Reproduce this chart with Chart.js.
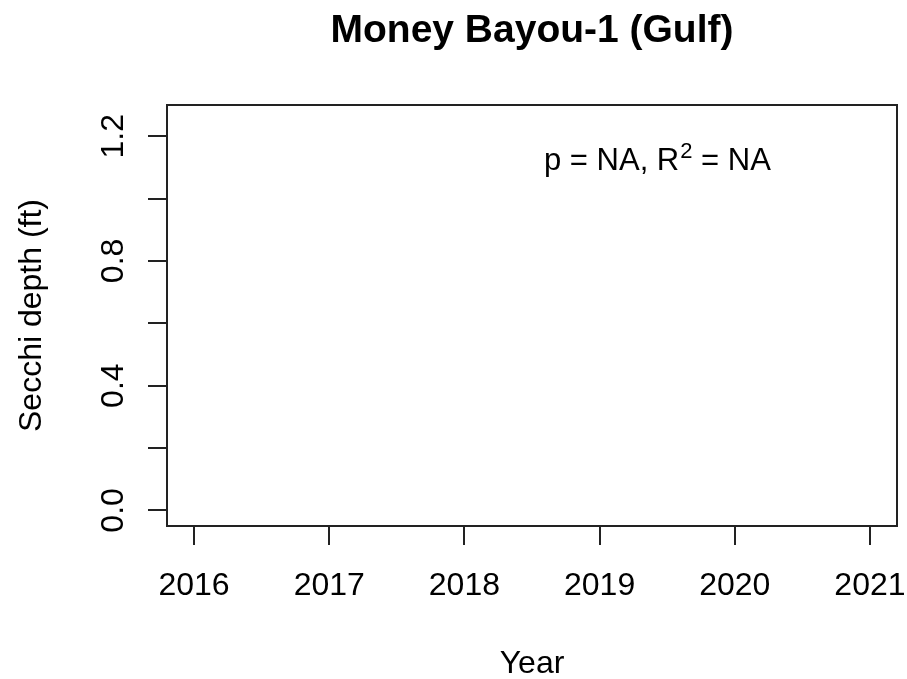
<!DOCTYPE html>
<html>
<head>
<meta charset="utf-8">
<script src="https://cdn.jsdelivr.net/npm/chart.js@4.4.1/dist/chart.umd.min.js"></script>
<style>
  body { margin: 0; background: #fff; }
  canvas { display: block; }
</style>
</head>
<body>
<canvas id="canvas1" width="907" height="679"></canvas>
<script>
// no samples for this site, so the series are empty
var years = [];
var secchi = [];

var yearTicks = [2016, 2017, 2018, 2019, 2020, 2021];
var depthTicks = [0, 0.2, 0.4, 0.6, 0.8, 1.0, 1.2];
var depthLabels = ['0.0', '', '0.4', '', '0.8', '', '1.2'];

var titleText = 'Money Bayou-1 (Gulf)';
var xTitle = 'Year';
var yTitle = 'Secchi depth (ft)';
var pText = 'NA';
var r2Text = 'NA';

var FONT = '"Liberation Sans", Arial, sans-serif';
var INK = '#222';

var points = [];
for (var i = 0; i < years.length; i++) {
    points.push({x: years[i], y: secchi[i]});
}

var rPlot = {
    id: 'rPlot',
    afterDraw: function(chart) {
        var ctx = chart.ctx;
        var a = chart.chartArea;
        var ys = chart.scales.y;
        var cx = (a.left + a.right) / 2;
        ctx.save();

        // box round the plot region
        ctx.strokeStyle = INK;
        ctx.lineWidth = 2;
        ctx.strokeRect(a.left, a.top, a.right - a.left, a.bottom - a.top);

        ctx.fillStyle = '#000';
        ctx.textBaseline = 'alphabetic';

        // title
        ctx.font = 'bold 39px ' + FONT;
        ctx.textAlign = 'center';
        ctx.fillText(titleText, cx, 42);

        // x axis title
        ctx.font = '32px ' + FONT;
        ctx.fillText(xTitle, cx, 673);

        // y axis title, rotated
        ctx.save();
        ctx.translate(41, (a.top + a.bottom) / 2);
        ctx.rotate(-Math.PI / 2);
        ctx.fillText(yTitle, 0, 0);
        ctx.restore();

        // y tick labels, parallel to the axis like R does
        for (var k = 0; k < depthTicks.length; k++) {
            if (!depthLabels[k]) continue;
            var py = ys.getPixelForValue(depthTicks[k]);
            ctx.save();
            ctx.translate(123, py);
            ctx.rotate(-Math.PI / 2);
            ctx.fillText(depthLabels[k], 0, 0);
            ctx.restore();
        }

        // p / R^2 note
        var x = 544, base = 170;
        ctx.textAlign = 'left';
        ctx.font = '31px ' + FONT;
        var s1 = 'p = ' + pText + ', R';
        ctx.fillText(s1, x, base);
        x += ctx.measureText(s1).width;
        ctx.font = '22px ' + FONT;
        ctx.fillText('2', x + 1, base - 12);
        x += ctx.measureText('2').width + 1;
        ctx.font = '31px ' + FONT;
        ctx.fillText(' = ' + r2Text, x, base);

        ctx.restore();
    }
};

var ctx = document.getElementById('canvas1');
var chart1 = new Chart(ctx, {
    type: 'scatter',
    data: {
        datasets: [{
            label: 'secchi',
            data: points,
            pointStyle: 'circle',
            pointRadius: 4,
            borderColor: '#000',
            backgroundColor: 'rgba(0,0,0,0)'
        }]
    },
    options: {
        responsive: false,
        animation: false,
        layout: { padding: { top: 105, right: 10, left: 0, bottom: 0 } },
        plugins: {
            legend: { display: false },
            title: { display: false },
            tooltip: { enabled: false }
        },
        scales: {
            x: {
                type: 'linear',
                min: 2015.8,
                max: 2021.2,
                afterBuildTicks: function(s) {
                    s.ticks = yearTicks.map(function(v) { return {value: v}; });
                },
                afterFit: function(s) {
                    s.height = 153;
                    s.paddingLeft = 0;
                    s.paddingRight = 0;
                },
                ticks: {
                    autoSkip: false,
                    maxRotation: 0,
                    padding: 22,
                    color: '#000',
                    font: { family: FONT, size: 32 },
                    callback: function(v) { return String(v); }
                },
                grid: {
                    drawOnChartArea: false,
                    drawTicks: true,
                    tickLength: 19,
                    lineWidth: 2,
                    color: INK
                },
                border: { display: false }
            },
            y: {
                type: 'linear',
                min: -0.05,
                max: 1.3,
                afterBuildTicks: function(s) {
                    s.ticks = depthTicks.map(function(v) { return {value: v}; });
                },
                afterFit: function(s) {
                    s.width = 167;
                    s.paddingTop = 0;
                    s.paddingBottom = 0;
                },
                ticks: { display: false },
                grid: {
                    drawOnChartArea: false,
                    drawTicks: true,
                    tickLength: 19,
                    lineWidth: 2,
                    color: INK
                },
                border: { display: false }
            }
        }
    },
    plugins: [rPlot]
});
</script>
</body>
</html>
